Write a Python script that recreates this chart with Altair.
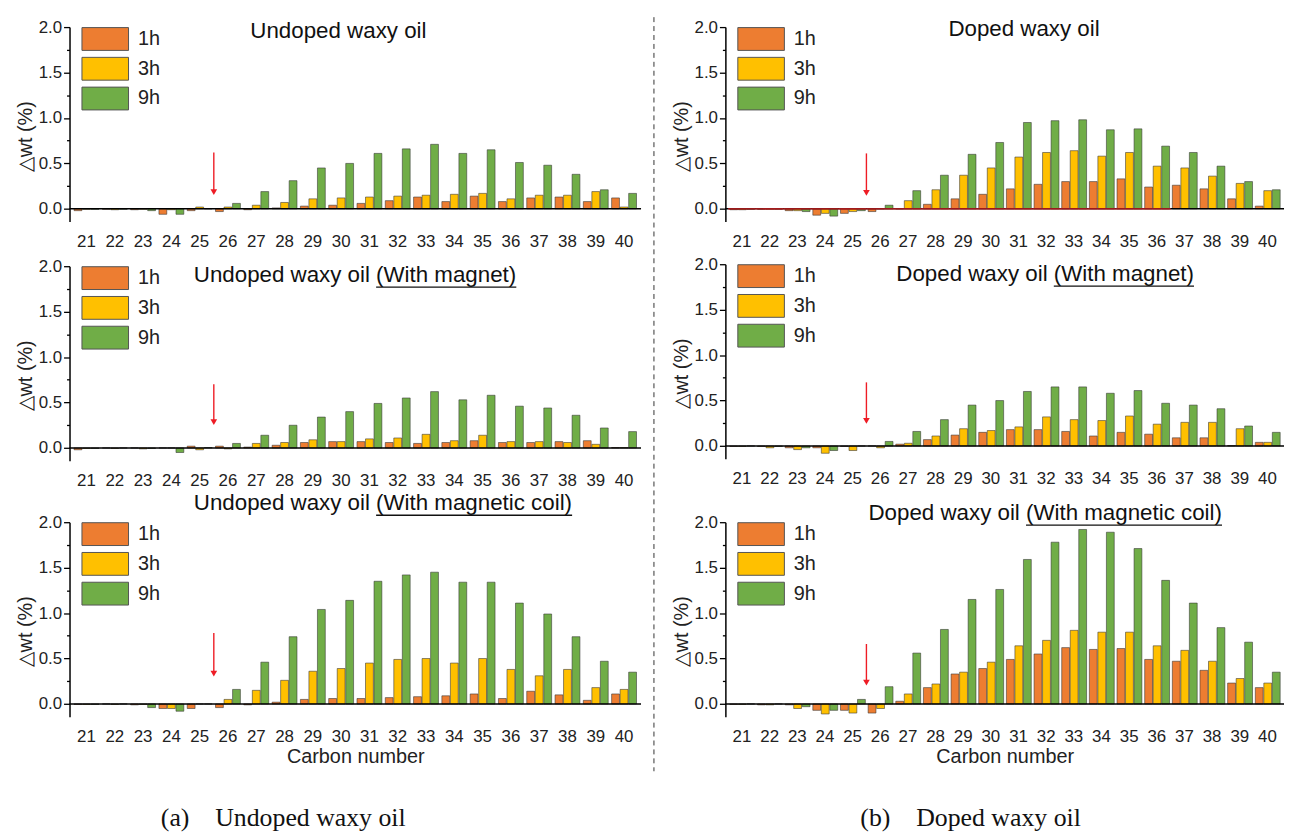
import altair as alt
import pandas as pd

FONT = "Liberation Sans"
carbons = [str(c) for c in range(21, 41)]
series = ["1h", "3h", "9h"]
colors = ["#ED7D31", "#FFC000", "#70AD47"]

# ---- Undoped waxy oil ----
ul_1h = [-0.02, -0.005, -0.01, -0.06, -0.02, -0.03, -0.01, 0.01, 0.03, 0.04, 0.06, 0.09, 0.13, 0.08, 0.14, 0.08, 0.12, 0.13, 0.08, 0.12]
ul_3h = [-0.005, -0.01, -0.005, -0.01, 0.02, 0.02, 0.04, 0.07, 0.11, 0.12, 0.13, 0.14, 0.15, 0.16, 0.17, 0.11, 0.15, 0.15, 0.19, 0.02]
ul_9h = [-0.005, -0.005, -0.02, -0.06, 0.0, 0.06, 0.19, 0.31, 0.45, 0.50, 0.61, 0.66, 0.71, 0.61, 0.65, 0.51, 0.48, 0.38, 0.21, 0.17]

# ---- Undoped waxy oil (With magnet) ----
um_1h = [-0.02, 0.0, 0.0, 0.0, 0.02, 0.02, 0.01, 0.03, 0.06, 0.07, 0.07, 0.06, 0.05, 0.06, 0.08, 0.06, 0.06, 0.07, 0.08, 0.005]
um_3h = [-0.005, -0.005, -0.01, 0.0, -0.02, -0.01, 0.05, 0.06, 0.09, 0.07, 0.10, 0.11, 0.15, 0.08, 0.14, 0.07, 0.07, 0.06, 0.04, 0.005]
um_9h = [-0.005, 0.0, -0.005, -0.05, 0.005, 0.05, 0.14, 0.25, 0.34, 0.40, 0.49, 0.55, 0.62, 0.53, 0.58, 0.46, 0.44, 0.36, 0.22, 0.18]

# ---- Undoped waxy oil (With magnetic coil) ----
uc_1h = [-0.005, 0.0, -0.01, -0.05, -0.05, -0.04, -0.01, 0.02, 0.05, 0.06, 0.06, 0.07, 0.08, 0.09, 0.11, 0.06, 0.14, 0.10, 0.04, 0.11]
uc_3h = [-0.005, -0.005, -0.005, -0.05, 0.0, 0.05, 0.15, 0.26, 0.36, 0.39, 0.45, 0.49, 0.50, 0.45, 0.50, 0.38, 0.31, 0.38, 0.18, 0.16]
uc_9h = [-0.005, 0.0, -0.04, -0.08, 0.0, 0.16, 0.46, 0.74, 1.04, 1.14, 1.35, 1.42, 1.45, 1.34, 1.34, 1.11, 0.99, 0.74, 0.47, 0.35]

# ---- Doped waxy oil ----
dl_1h = [-0.01, -0.005, -0.02, -0.07, -0.05, -0.03, 0.0, 0.05, 0.11, 0.16, 0.22, 0.27, 0.30, 0.30, 0.33, 0.24, 0.26, 0.22, 0.11, 0.03]
dl_3h = [-0.01, -0.005, -0.02, -0.05, -0.03, 0.0, 0.09, 0.21, 0.37, 0.45, 0.57, 0.62, 0.64, 0.58, 0.62, 0.47, 0.45, 0.36, 0.28, 0.20]
dl_9h = [-0.005, -0.005, -0.03, -0.08, -0.02, 0.04, 0.20, 0.37, 0.60, 0.73, 0.95, 0.97, 0.98, 0.87, 0.88, 0.69, 0.62, 0.47, 0.30, 0.21]

# ---- Doped waxy oil (With magnet) ----
dm_1h = [-0.005, -0.005, -0.02, -0.02, -0.005, 0.0, 0.02, 0.07, 0.12, 0.15, 0.18, 0.18, 0.16, 0.11, 0.15, 0.13, 0.09, 0.09, 0.005, 0.04]
dm_3h = [-0.005, -0.02, -0.04, -0.08, -0.05, -0.02, 0.03, 0.11, 0.19, 0.17, 0.21, 0.32, 0.29, 0.28, 0.33, 0.24, 0.26, 0.26, 0.19, 0.04]
dm_9h = [0.0, -0.005, -0.02, -0.05, 0.0, 0.05, 0.16, 0.29, 0.45, 0.50, 0.60, 0.65, 0.65, 0.58, 0.61, 0.47, 0.45, 0.41, 0.22, 0.15]

# ---- Doped waxy oil (With magnetic coil) ----
dc_1h = [-0.005, -0.01, -0.01, -0.07, -0.07, -0.10, 0.03, 0.18, 0.33, 0.39, 0.49, 0.55, 0.62, 0.60, 0.61, 0.49, 0.47, 0.37, 0.23, 0.18]
dc_3h = [-0.005, -0.01, -0.05, -0.11, -0.10, -0.05, 0.11, 0.22, 0.35, 0.46, 0.64, 0.70, 0.81, 0.79, 0.79, 0.64, 0.59, 0.47, 0.28, 0.23]
dc_9h = [0.0, 0.0, -0.03, -0.07, 0.05, 0.19, 0.56, 0.82, 1.15, 1.26, 1.59, 1.78, 1.92, 1.89, 1.71, 1.36, 1.11, 0.84, 0.68, 0.35]

# red arrows (value at top of shaft, value at tip), placed at the 25|26 boundary
arrows = {
    "ul": (0.62, 0.15), "um": (0.70, 0.25), "uc": (0.78, 0.30),
    "dl": (0.61, 0.14), "dm": (0.70, 0.24), "dc": (0.66, 0.20),
}

H = 196
YDOM = [-0.14, 2.0]
TFS = 22.5
MINOR = "abs(datum.value*2 - round(datum.value*2)) > 0.001"


def make_panel(v1, v3, v9, width, key, title_a, title_b, tx, ty, pad_top=None,
               bottom=False, red_until=None, caption=None, cap_x=0):
    rows = []
    for s, vals in zip(series, [v1, v3, v9]):
        for c, v in zip(carbons, vals):
            rows.append({"carbon": c, "series": s, "value": v})
    df = pd.DataFrame(rows)

    xaxis = alt.Axis(domain=False, ticks=False, labelAngle=0, labelFontSize=17,
                     labelPadding=12, labelColor="#222", labelFont=FONT,
                     title="Carbon number" if bottom else None,
                     titleFontSize=20, titleFontWeight="normal", titleColor="#222",
                     titlePadding=2, titleFont=FONT)
    xscale = alt.Scale(domain=carbons, paddingInner=0, paddingOuter=0.1)
    yaxis = alt.Axis(values=[i * 0.25 for i in range(9)],
                     labelExpr=f"{MINOR} ? '' : format(datum.value, '.1f')",
                     tickSize={"condition": {"test": MINOR, "value": 3}, "value": 6},
                     tickColor="black", tickWidth=1.3, domainColor="black", domainWidth=1.5,
                     grid=False, labelFontSize=17, labelColor="#222", labelPadding=2,
                     labelFont=FONT, title="△wt (%)", titleFontSize=20, titleY=110,
                     titleFontWeight="normal", titleColor="#222", titlePadding=3, titleFont=FONT)
    yscale = alt.Scale(domain=YDOM, nice=False, zero=False)

    bars = alt.Chart(df).mark_bar(stroke="#333", strokeWidth=0.8, strokeOpacity=0.7).encode(
        x=alt.X("carbon:N", scale=xscale, axis=xaxis, sort=carbons),
        xOffset=alt.XOffset("series:N", sort=series,
                            scale=alt.Scale(paddingInner=0.08, paddingOuter=0.2)),
        y=alt.Y("value:Q", scale=yscale, axis=yaxis),
        y2=alt.datum(0),
        color=alt.Color("series:N", scale=alt.Scale(domain=series, range=colors),
                        legend=alt.Legend(orient="none", legendX=24, legendY=0, title=None,
                                          symbolType="M-2.04,-1H2.04V1H-2.04Z", symbolSize=529,
                                          symbolStrokeColor="#555", symbolStrokeWidth=1,
                                          symbolOpacity=1, labelFontSize=20, labelOffset=21,
                                          labelFont=FONT, labelColor="#222",
                                          rowPadding=2, padding=0)),
    )

    zero_df = pd.DataFrame({"v": [0.0]})
    zero = alt.Chart(zero_df).mark_rule(color="black", strokeWidth=1.5).encode(
        y=alt.Y("v:Q", scale=yscale, axis=yaxis))
    layers = [bars, zero]

    if red_until is not None:
        rdf = pd.DataFrame({"carbon": carbons[:carbons.index(red_until)], "v": 0.0})
        red = alt.Chart(rdf).mark_tick(color="#e8262a", thickness=1.6, orient="horizontal",
                                       size=width / 20.2).encode(
            x=alt.X("carbon:N", scale=xscale, axis=xaxis, sort=carbons),
            y=alt.Y("v:Q", scale=yscale, axis=yaxis))
        layers.append(red)

    top, tip = arrows[key]
    adf = pd.DataFrame({"carbon": ["26"], "top": [top], "tip": [tip], "head": [tip + 0.035]})
    shaft = alt.Chart(adf).mark_rule(color="#ee1c25", strokeWidth=1.4).encode(
        x=alt.X("carbon:N", scale=xscale, axis=xaxis, sort=carbons, bandPosition=0),
        y=alt.Y("top:Q", scale=yscale, axis=yaxis), y2="head:Q")
    head = alt.Chart(adf).mark_point(shape="triangle-down", filled=True, color="#ee1c25",
                                     size=45, opacity=1).encode(
        x=alt.X("carbon:N", scale=xscale, axis=xaxis, sort=carbons, bandPosition=0),
        y=alt.Y("head:Q", scale=yscale, axis=yaxis))
    layers += [shaft, head]

    one = pd.DataFrame({"a": [0]})
    if title_b is None:
        layers.append(alt.Chart(one).mark_text(text=title_a, font=FONT, fontSize=TFS,
                                               color="#111", align="center", baseline="middle")
                      .encode(x=alt.value(tx), y=alt.value(ty)))
    else:
        space = 0.278 * TFS
        layers.append(alt.Chart(one).mark_text(text=title_a, font=FONT, fontSize=TFS,
                                               color="#111", align="right", baseline="middle")
                      .encode(x=alt.value(tx - space), y=alt.value(ty)))
        layers.append(alt.Chart(one).mark_text(text=title_b, font=FONT, fontSize=TFS,
                                               color="#111", align="left", baseline="middle")
                      .encode(x=alt.value(tx), y=alt.value(ty)))
        em = {"(With magnet)": 6.279, "(With magnetic coil)": 8.779}[title_b]
        layers.append(alt.Chart(one).mark_rule(color="#111", strokeWidth=1.3)
                      .encode(x=alt.value(tx), x2=alt.value(tx + em * TFS),
                              y=alt.value(ty + 12)))
    if pad_top is not None:
        # invisible spacer that only reserves room above the panel
        layers.append(alt.Chart(one).mark_rule(strokeOpacity=0, opacity=0)
                      .encode(x=alt.value(0), x2=alt.value(1), y=alt.value(pad_top)))
    if caption is not None:
        layers.append(alt.Chart(one).mark_text(text=caption, font="Liberation Serif",
                                               fontSize=26, color="#111", align="left",
                                               baseline="middle")
                      .encode(x=alt.value(cap_x), y=alt.value(298)))

    return alt.layer(*layers).properties(width=width, height=H)


WL, WR = 576, 563
NB = "\u00a0"

tl = make_panel(ul_1h, ul_3h, ul_9h, WL, "ul", "Undoped waxy oil", None, 271, 4, pad_top=-11)
ml = make_panel(um_1h, um_3h, um_9h, WL, "um", "Undoped waxy oil", "(With magnet)", 309, 9,
                pad_top=-15.5)
bl = make_panel(uc_1h, uc_3h, uc_9h, WL, "uc", "Undoped waxy oil", "(With magnetic coil)", 309, -19,
                pad_top=-32.5, bottom=True, caption="(a)" + NB * 4 + "Undoped waxy oil", cap_x=92)

tr = make_panel(dl_1h, dl_3h, dl_9h, WR, "dl", "Doped waxy oil", None, 301, 2, red_until="37")
mr = make_panel(dm_1h, dm_3h, dm_9h, WR, "dm", "Doped waxy oil", "(With magnet)", 331, 10,
                pad_top=-13.5)
br = make_panel(dc_1h, dc_3h, dc_9h, WR, "dc", "Doped waxy oil", "(With magnetic coil)", 303, -9,
                pad_top=-34.5, bottom=True, caption="(b)" + NB * 4 + "Doped waxy oil", cap_x=136)

left = alt.vconcat(tl, ml, bl, spacing=1).resolve_scale(color="independent").resolve_legend(color="independent")
right = alt.vconcat(tr, mr, br, spacing=1).resolve_scale(color="independent").resolve_legend(color="independent")

sep = alt.Chart(pd.DataFrame({"a": [0]})).mark_rule(strokeDash=[5, 4], color="#333",
                                                    strokeWidth=1).encode(
    x=alt.value(-5), y=alt.value(-10), y2=alt.value(750)).properties(width=1, height=700)

chart = alt.hconcat(left, sep, right, spacing=11).resolve_scale(
    color="independent").resolve_legend(color="independent").properties(
    padding={"left": 7, "top": 5, "right": 0, "bottom": 0},
    background="white",
).configure_view(stroke=None)

chart.save("out.html", embed_options={"renderer": "svg", "actions": False})
